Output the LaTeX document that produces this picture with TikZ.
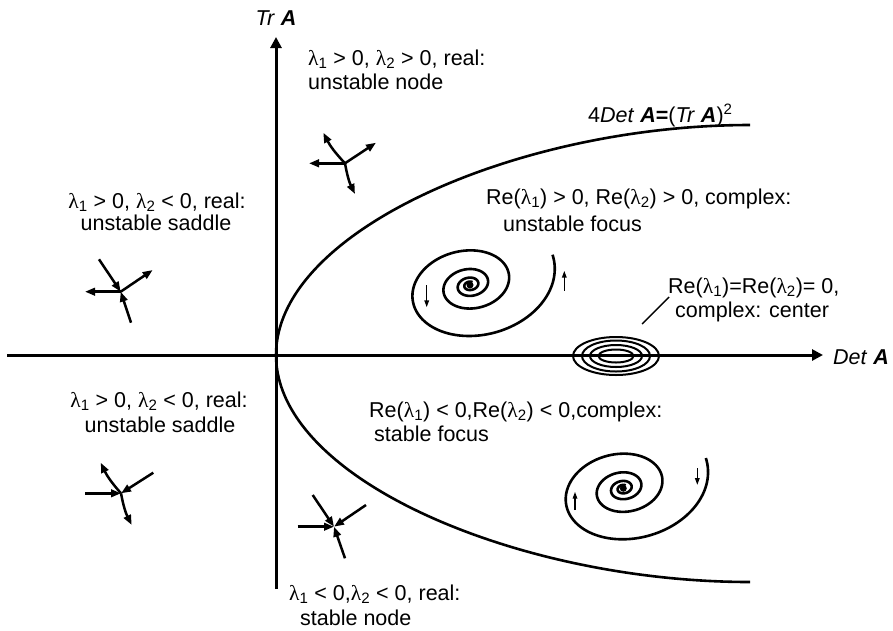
\documentclass[tikz,border=0pt]{standalone}
\usepackage{fontspec}
\setmainfont{Liberation Sans}
\newfontfamily\grk{Liberation Serif}
\usetikzlibrary{arrows.meta}
\newcommand{\lam}[1]{{\grk λ}\textsubscript{#1}}
\newcommand{\bA}{\textbf{\textit{A}}}
\begin{document}
\begin{tikzpicture}[x=1pt,y=-1pt,
  lbl/.style={inner sep=0pt, font=\fontsize{21.5}{25}\selectfont},
  axis/.style={line width=3pt, -{Triangle[length=11pt,width=11pt]}},
  curve/.style={line width=2.6pt},
  arr/.style={line width=2.5pt, -{Triangle[length=10pt,width=7.5pt]}},
  tiny/.style={line width=1.5pt, -{Triangle[length=7pt,width=4.5pt]}},
  spir/.style={line width=2.6pt},
  ring/.style={line width=2pt},
  lead/.style={line width=1.4pt}]
\useasboundingbox (0,0) rectangle (893,630);
% axes
\coordinate (O) at (276,355);
\coordinate (xs) at (7,355);
\coordinate (xe) at (823,355);
\coordinate (ys) at (276,589);
\coordinate (ye) at (276,37);
\draw[axis] (xs) -- (xe);
\draw[axis] (ys) -- (ye);
\node[lbl, anchor=base] (trA) at (276,25) {\textit{Tr} \bA};
\node[lbl, anchor=base west] (detA) at (833,364) {\textit{Det} \bA};
% parabola
\coordinate (pt) at (750,125);
\coordinate (pb) at (750,582);
\draw[curve] (O) .. controls (276,230) and (520,125) .. (pt);
\draw[curve] (O) .. controls (276,480) and (520,582) .. (pb);
\node[lbl, anchor=base west] (par) at (588,122) {4\textit{Det} \bA\textbf{=}(\textit{Tr} \bA)\textsuperscript{2}};
% texts
\node[lbl, anchor=base west] (t1a) at (308,65) {\lam1 > 0, \lam2 > 0, real:};
\node[lbl, anchor=base west] (t1b) at (308,89) {unstable node};
\node[lbl, anchor=base] (t2a) at (157,208) {\lam1 > 0, \lam2 < 0, real:};
\node[lbl, anchor=base] (t2b) at (156,230) {unstable saddle};
\node[lbl, anchor=base] (t3a) at (159,407) {\lam1 > 0, \lam2 < 0, real:};
\node[lbl, anchor=base] (t3b) at (160,432) {unstable saddle};
\node[lbl, anchor=base west] (t4a) at (486,204) {Re(\lam1) > 0, Re(\lam2) > 0, complex:};
\node[lbl, anchor=base west] (t4b) at (503,231) {unstable focus};
\node[lbl, anchor=base west] (t5a) at (668,293) {Re(\lam1)=Re(\lam2)= 0,};
\node[lbl, anchor=base west] (t5b) at (675,317) {complex: center};
\node[lbl, anchor=base west] (t6a) at (369,417) {Re(\lam1) < 0,Re(\lam2) < 0,complex:};
\node[lbl, anchor=base west] (t6b) at (374,441) {stable focus};
\node[lbl, anchor=base west] (t7a) at (289,600) {\lam1 < 0,\lam2 < 0, real:};
\node[lbl, anchor=base west] (t7b) at (300,625) {stable node};
% center
\coordinate (C) at (616,356);
\draw[ring] (C) ellipse [x radius=43pt, y radius=19pt];
\draw[ring] (C) ellipse [x radius=34pt, y radius=15.5pt];
\draw[ring] (C) ellipse [x radius=26pt, y radius=11pt];
\draw[ring] (C) ellipse [x radius=17.5pt, y radius=6.5pt];
\coordinate (l1) at (642,324);
\coordinate (l2) at (669,297);
\draw[lead] (l1) -- (l2);
% unstable focus
\coordinate (F1) at (470,285);
\begin{scope}[shift={(F1)}]
\draw[spir] plot[domain=-18:6.48, samples=500] ({40*exp(0.123*\x)*(cos(\x r)*0.978 - 0.72*sin(\x r)*0.208)}, {-40*exp(0.123*\x)*(cos(\x r)*0.208 + 0.72*sin(\x r)*0.978)});
\end{scope}
\fill (F1) circle (3.5pt);
\coordinate (f1a) at (426.7,285); \coordinate (f1b) at (426.7,307.3);
\coordinate (f1c) at (564.3,290.7); \coordinate (f1d) at (564.3,270.7);
\draw[tiny] (f1a) -- (f1b);
\draw[tiny] (f1c) -- (f1d);
% stable focus
\coordinate (F2) at (623.3,488.3);
\begin{scope}[shift={(F2)}]
\draw[spir] plot[domain=-18:6.48, samples=500] ({40*exp(0.123*\x)*(cos(\x r)*0.978 - 0.72*sin(\x r)*0.208)}, {-40*exp(0.123*\x)*(cos(\x r)*0.208 + 0.72*sin(\x r)*0.978)});
\end{scope}
\fill (F2) circle (3.5pt);
\coordinate (f2a) at (697.3,468.3); \coordinate (f2b) at (697.3,485);
\coordinate (f2c) at (575,510); \coordinate (f2d) at (575,491.7);
\draw[tiny] (f2a) -- (f2b);
\draw[tiny] (f2c) -- (f2d);
% upper saddle
\coordinate (S1) at (120.7,291.7);
\coordinate (s1a) at (85,291.7); \coordinate (s1b) at (152.7,270);
\coordinate (s1c) at (99,259.3); \coordinate (s1d) at (131,322.7);
\draw[arr] (S1) -- (s1a);
\draw[arr] (S1) -- (s1b);
\draw[arr] (s1c) -- (S1);
\draw[arr] (s1d) -- (S1);
% unstable node
\coordinate (N1) at (345,163.3);
\coordinate (n1a) at (309,163.3); \coordinate (n1b) at (376,142.7);
\coordinate (n1c) at (323.3,132.7); \coordinate (n1d) at (355,194);
\draw[arr] (N1) -- (n1a);
\draw[arr] (N1) -- (n1b);
\draw[arr] (N1) to[bend left=8] (n1c);
\draw[arr] (N1) to[bend right=8] (n1d);
% lower saddle
\coordinate (S2) at (121,493.3);
\coordinate (s2a) at (85,493.3); \coordinate (s2b) at (153.3,472.7);
\coordinate (s2c) at (100.7,462.7); \coordinate (s2d) at (131.7,525);
\draw[arr] (s2a) -- (S2);
\draw[arr] (s2b) -- (S2);
\draw[arr] (S2) to[bend left=8] (s2c);
\draw[arr] (S2) to[bend right=8] (s2d);
% stable node
\coordinate (N2) at (334,526.7);
\coordinate (n2a) at (297.7,526.7); \coordinate (n2b) at (366,505);
\coordinate (n2c) at (312.7,495); \coordinate (n2d) at (345,558.3);
\draw[arr] (n2a) -- (N2);
\draw[arr] (n2b) -- (N2);
\draw[arr] (n2c) -- (N2);
\draw[arr] (n2d) -- (N2);
\end{tikzpicture}
\end{document}
